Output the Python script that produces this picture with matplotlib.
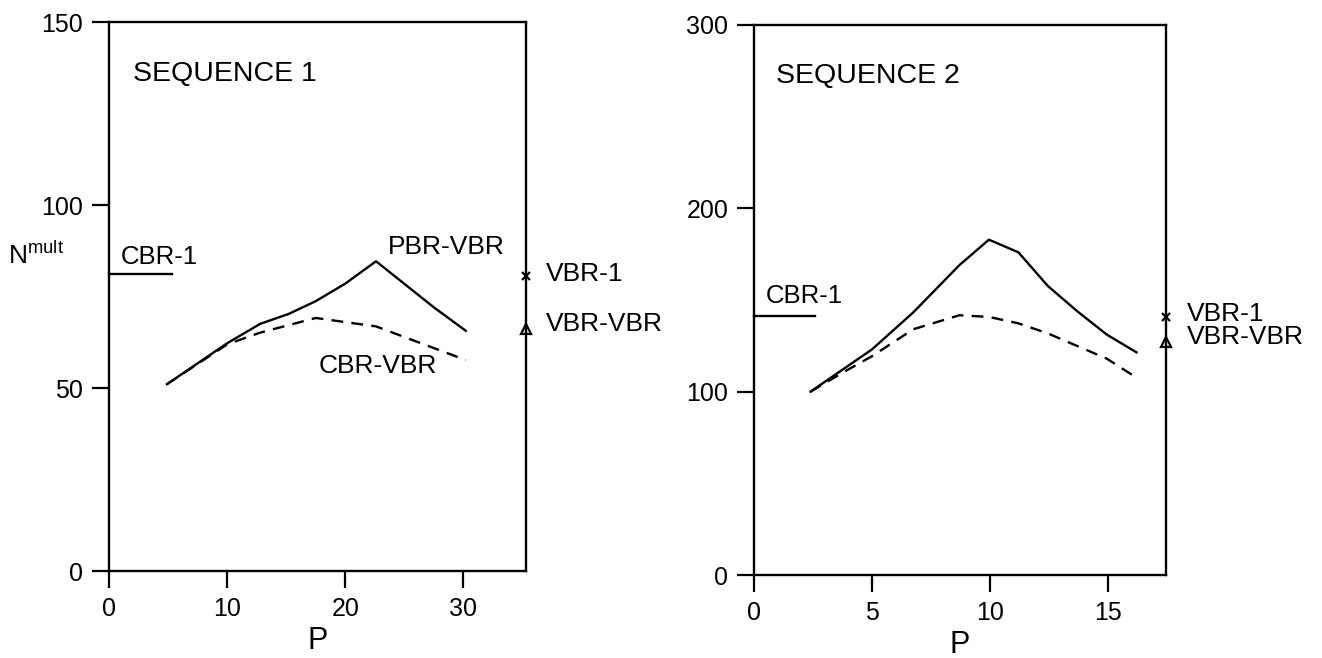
import numpy as np
import matplotlib.pyplot as plt

plt.rcParams['font.family'] = ['Liberation Sans', 'DejaVu Sans']
plt.rcParams['mathtext.fontset'] = 'custom'
plt.rcParams['mathtext.rm'] = 'Liberation Sans'

# sequence 1
p1_solid = [4.9, 10.0, 12.8, 15.2, 17.5, 20.0, 22.6, 27.5, 30.2]
n1_solid = [51.1, 62.3, 67.6, 70.3, 73.8, 78.6, 84.7, 72.1, 65.7]
p1_dash = [4.9, 10.0, 12.8, 17.5, 22.6, 30.2]
n1_dash = [51.1, 62.0, 65.2, 69.2, 66.9, 57.7]
cbr1_seq1 = 81.3
vbr1_seq1 = 80.7
vbrvbr_seq1 = 66.3

# sequence 2
p2_solid = [2.4, 5.0, 6.75, 8.7, 9.95, 11.2, 12.45, 13.7, 14.95, 16.2]
n2_solid = [100, 123, 143.2, 168.9, 182.8, 175.9, 157.5, 143.7, 131, 121.4]
p2_dash = [2.4, 3.7, 5.0, 6.75, 8.7, 9.95, 11.2, 12.45, 14.95, 16.2]
n2_dash = [100, 109.9, 119.3, 134, 141.6, 140.7, 137.2, 131.7, 117.9, 107.6]
cbr1_seq2 = 141.4
vbr1_seq2 = 140.5
vbrvbr_seq2 = 127.1


def panel(ax, ps, ns, pd, nd, cbr, cbr_end, vbr1, vbrvbr, xmax, ymax, xticks, yticks):
    ax.plot(ps, ns, color='black', lw=1.7)
    ax.plot(pd, nd, color='black', lw=1.7, ls=(0, (5, 3.5)))
    ax.plot([0, cbr_end], [cbr, cbr], color='black', lw=1.7, clip_on=False)
    ax.plot([xmax], [vbr1], marker='x', color='black', ms=6, mew=1.6, clip_on=False)
    ax.plot([xmax], [vbrvbr], marker='^', mfc='white', mec='black', ms=7, mew=1.6, clip_on=False)
    ax.set_xlim(0, xmax)
    ax.set_ylim(0, ymax)
    ax.set_xticks(xticks)
    ax.set_yticks(yticks)
    ax.tick_params(direction='out', length=12.5, width=1.6, labelsize=18, pad=6)
    for s in ax.spines.values():
        s.set_linewidth(1.7)
    ax.set_xlabel('P', fontsize=22, labelpad=4)


fig = plt.figure(figsize=(13.22, 6.58), dpi=100)
ax1 = fig.add_axes([0.0825, 0.132, 0.3154, 0.834])
ax2 = fig.add_axes([0.5703, 0.126, 0.3117, 0.8366])

panel(ax1, p1_solid, n1_solid, p1_dash, n1_dash, cbr1_seq1, 5.3,
      vbr1_seq1, vbrvbr_seq1, 35.3, 150, [0, 10, 20, 30], [0, 50, 100, 150])
panel(ax2, p2_solid, n2_solid, p2_dash, n2_dash, cbr1_seq2, 2.6,
      vbr1_seq2, vbrvbr_seq2, 17.45, 300, [0, 5, 10, 15], [0, 100, 200, 300])

ax1.text(2.0, 136, 'SEQUENCE 1', fontsize=20.5, va='center')
ax1.text(1.0, 86, 'CBR-1', fontsize=18.5, va='center')
ax1.text(23.6, 88.5, 'PBR-VBR', fontsize=19, va='center')
ax1.text(17.7, 56, 'CBR-VBR', fontsize=19, va='center')
ax1.text(37.0, 81.3, 'VBR-1', fontsize=19, va='center', clip_on=False)
ax1.text(37.0, 67.5, 'VBR-VBR', fontsize=19, va='center', clip_on=False)
ax1.text(-0.242, 86.5, r'N$^{\mathrm{mult}}$', fontsize=19, va='center',
         transform=ax1.get_yaxis_transform())

ax2.text(0.95, 272, 'SEQUENCE 2', fontsize=20.5, va='center')
ax2.text(0.5, 152, 'CBR-1', fontsize=18.5, va='center')
ax2.text(18.35, 142.5, 'VBR-1', fontsize=19, va='center', clip_on=False)
ax2.text(18.35, 129.5, 'VBR-VBR', fontsize=19, va='center', clip_on=False)

fig.savefig('out.png', dpi=100)
